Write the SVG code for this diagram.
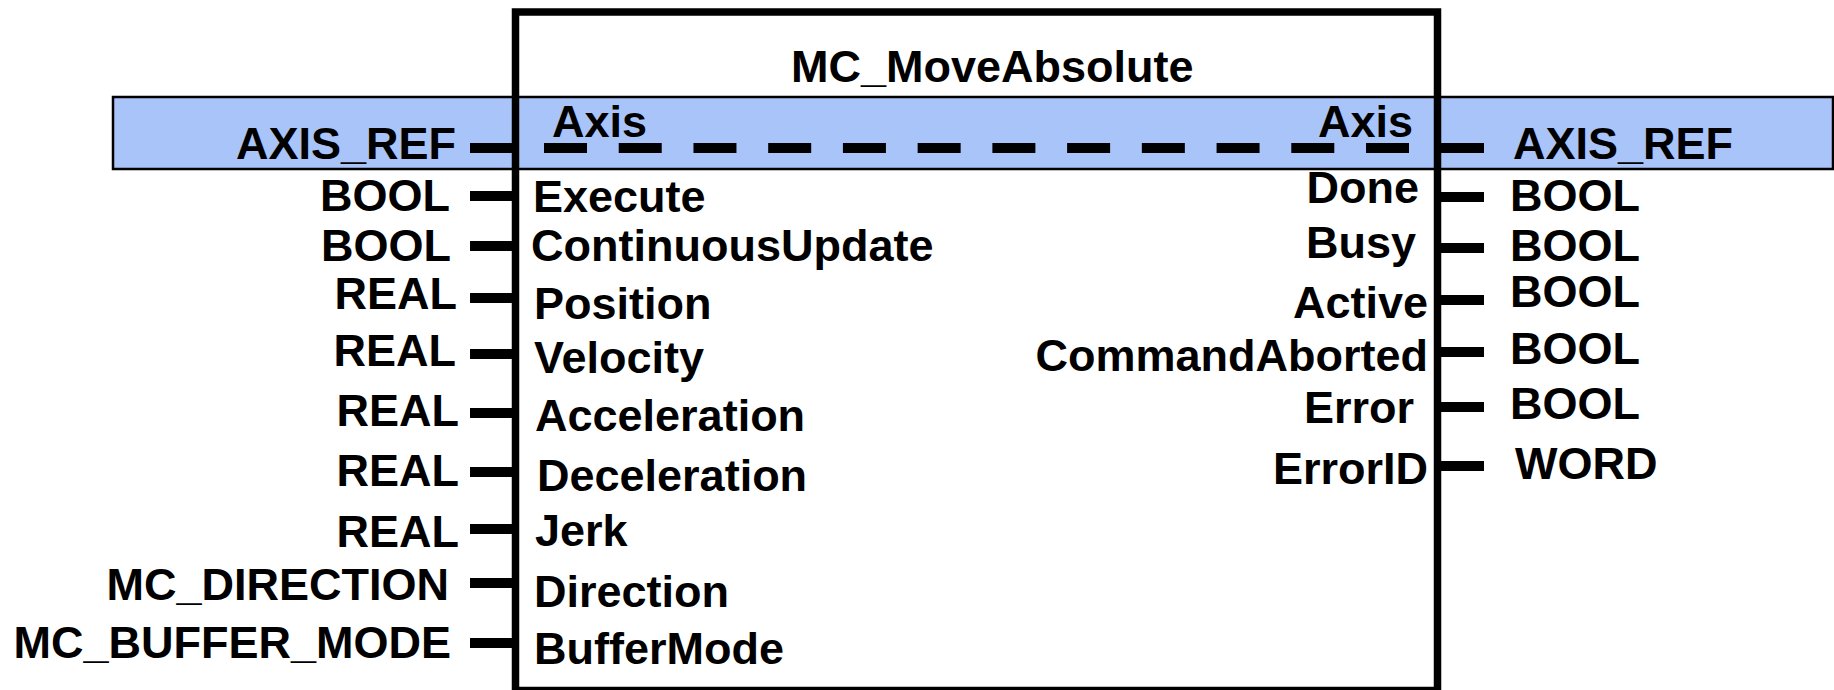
<svg xmlns="http://www.w3.org/2000/svg" width="1834" height="690" viewBox="0 0 1834 690">
  <style>
    text { font-family: "Liberation Sans", Arial, sans-serif; font-weight: bold; font-size: 45px; fill: #000; }
    .end { text-anchor: end; }
    .stub { stroke: #000; stroke-width: 10; fill: none; }
  </style>
  <rect x="0" y="0" width="1834" height="690" fill="#fff"/>
  <g id="fb_body">
    <rect x="515.5" y="12" width="922" height="678.5" fill="#fff"/>
  </g>
  <g id="axis_band">
    <rect x="113" y="97" width="1720" height="72" fill="#A9C4F9" stroke="#000" stroke-width="2.5"/>
  </g>
  <g id="fb_outline">
    <rect x="515.5" y="12" width="922" height="678.5" fill="none" stroke="#000" stroke-width="7.5"/>
    <text x="791" y="82">MC_MoveAbsolute</text>
  </g>
  <g id="connectors">
    <line class="stub" x1="470" y1="148" x2="512" y2="148"/>
    <line x1="544" y1="148" x2="1409" y2="148" stroke="#000" stroke-width="10" stroke-dasharray="43 31.73"/>
    <line class="stub" x1="1441" y1="148" x2="1484" y2="148"/>
    <line class="stub" x1="470" y1="196" x2="512" y2="196"/>
    <line class="stub" x1="470" y1="246" x2="512" y2="246"/>
    <line class="stub" x1="470" y1="298" x2="512" y2="298"/>
    <line class="stub" x1="470" y1="354" x2="512" y2="354"/>
    <line class="stub" x1="470" y1="413" x2="512" y2="413"/>
    <line class="stub" x1="470" y1="472" x2="512" y2="472"/>
    <line class="stub" x1="470" y1="529" x2="512" y2="529"/>
    <line class="stub" x1="470" y1="583" x2="512" y2="583"/>
    <line class="stub" x1="470" y1="643" x2="512" y2="643"/>
    <line class="stub" x1="1441" y1="197" x2="1484" y2="197"/>
    <line class="stub" x1="1441" y1="248" x2="1484" y2="248"/>
    <line class="stub" x1="1441" y1="300" x2="1484" y2="300"/>
    <line class="stub" x1="1441" y1="352" x2="1484" y2="352"/>
    <line class="stub" x1="1441" y1="407" x2="1484" y2="407"/>
    <line class="stub" x1="1441" y1="466" x2="1484" y2="466"/>
  </g>
  <g id="in_axis">
    <text class="end" x="456" y="159">AXIS_REF</text>
    <text x="552" y="137">Axis</text>
  </g>
  <g id="out_axis">
    <text class="end" x="1413" y="137">Axis</text>
    <text x="1513" y="159">AXIS_REF</text>
  </g>
  <g id="in_execute">
    <text class="end" x="450" y="211">BOOL</text>
    <text x="533" y="212">Execute</text>
  </g>
  <g id="in_continuousupdate">
    <text class="end" x="451" y="261">BOOL</text>
    <text x="531" y="261">ContinuousUpdate</text>
  </g>
  <g id="in_position">
    <text class="end" x="457" y="309">REAL</text>
    <text x="534" y="319">Position</text>
  </g>
  <g id="in_velocity">
    <text class="end" x="456" y="366">REAL</text>
    <text x="534" y="373">Velocity</text>
  </g>
  <g id="in_acceleration">
    <text class="end" x="459" y="426">REAL</text>
    <text x="535" y="431">Acceleration</text>
  </g>
  <g id="in_deceleration">
    <text class="end" x="459" y="486">REAL</text>
    <text x="537" y="491">Deceleration</text>
  </g>
  <g id="in_jerk">
    <text class="end" x="459" y="547">REAL</text>
    <text x="535" y="546">Jerk</text>
  </g>
  <g id="in_direction">
    <text class="end" x="449" y="600">MC_DIRECTION</text>
    <text x="534" y="607">Direction</text>
  </g>
  <g id="in_buffermode">
    <text class="end" x="451" y="658">MC_BUFFER_MODE</text>
    <text x="534" y="664">BufferMode</text>
  </g>
  <g id="out_done">
    <text class="end" x="1419" y="203">Done</text>
    <text x="1510" y="211">BOOL</text>
  </g>
  <g id="out_busy">
    <text class="end" x="1416" y="258">Busy</text>
    <text x="1510" y="261">BOOL</text>
  </g>
  <g id="out_active">
    <text class="end" x="1428" y="318">Active</text>
    <text x="1510" y="307">BOOL</text>
  </g>
  <g id="out_commandaborted">
    <text class="end" x="1428" y="371">CommandAborted</text>
    <text x="1510" y="364">BOOL</text>
  </g>
  <g id="out_error">
    <text class="end" x="1414" y="423">Error</text>
    <text x="1510" y="419">BOOL</text>
  </g>
  <g id="out_errorid">
    <text class="end" x="1428" y="484">ErrorID</text>
    <text x="1515" y="479">WORD</text>
  </g>
</svg>
